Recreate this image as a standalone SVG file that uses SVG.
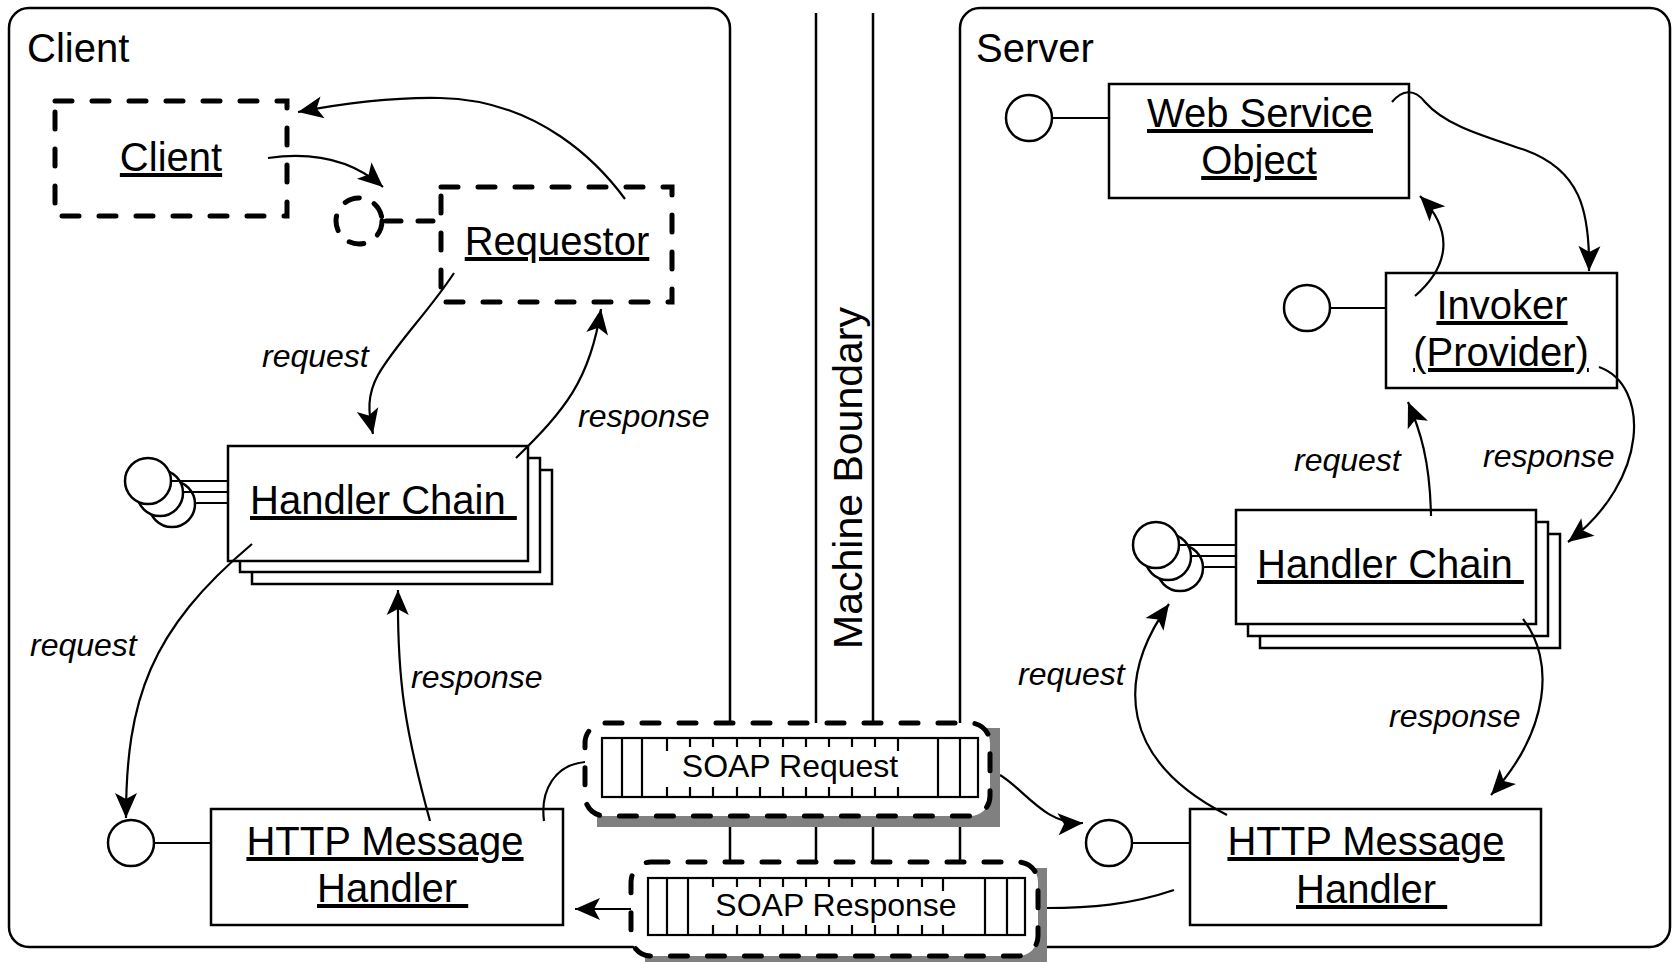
<svg xmlns="http://www.w3.org/2000/svg" width="1672" height="962" viewBox="0 0 1672 962">
<style>
.frame{fill:none;stroke:#000;stroke-width:2.5}
.box{fill:#fff;stroke:#000;stroke-width:2.5}
.ln{fill:none;stroke:#000;stroke-width:2.2}
.dbox{fill:#fff;stroke:#000;stroke-width:5;stroke-dasharray:17 20;stroke-linecap:round}
.conn{fill:none;stroke:#000;stroke-width:2.2;marker-end:url(#ah)}
.tape{fill:#fff;stroke:#000;stroke-width:2.2}
.shadow{fill:#808080}
text{font-family:"Liberation Sans",Arial,Helvetica,sans-serif;fill:#000}
.title{font-size:40px}
.lbl{font-size:40px;text-decoration:underline}
.it{font-size:32px;font-style:italic}
.soap{font-size:32px}
</style>
<defs>
<marker id="ah" markerUnits="userSpaceOnUse" markerWidth="26" markerHeight="22" refX="25" refY="11" orient="auto" overflow="visible">
<path d="M0,0 L25,11 L0,22 L6,11 Z" fill="#000"/>
</marker>
</defs>
<rect width="1672" height="962" fill="#fff"/>

<g id="client-frame">
<rect class="frame" x="9" y="8" width="721" height="939" rx="20"/>
<text class="title" x="27" y="62">Client</text>
</g>
<g id="server-frame">
<rect class="frame" x="960" y="8" width="710" height="939" rx="20"/>
<text class="title" x="976" y="62">Server</text>
</g>
<g id="machine-boundary">
<line class="frame" x1="816" y1="13" x2="816" y2="947"/>
<line class="frame" x1="873" y1="13" x2="873" y2="947"/>
<text class="title" text-anchor="middle" transform="translate(862,478) rotate(-90)" style="font-size:41px">Machine Boundary</text>
</g>

<g id="client-obj">
<rect class="dbox" x="55" y="101" width="232" height="115"/>
<text class="lbl" x="171" y="171" text-anchor="middle">Client</text>
</g>
<g id="requestor-iface">
<circle class="dbox" cx="359" cy="221" r="23" style="stroke-dasharray:15 16"/>
<line x1="386" y1="221" x2="441" y2="221" stroke="#000" stroke-width="5" stroke-dasharray="15 17" stroke-linecap="round"/>
</g>
<g id="requestor">
<rect class="dbox" x="441" y="187" width="231" height="115"/>
<text class="lbl" x="557" y="255" text-anchor="middle">Requestor</text>
</g>

<g id="client-handler-chain">
<rect class="box" x="252" y="470" width="300" height="114"/>
<rect class="box" x="240" y="458" width="300" height="114"/>
<rect class="box" x="228" y="446" width="300" height="115"/>
<circle class="box" cx="172" cy="504" r="23"/>
<circle class="box" cx="160" cy="493" r="23"/>
<circle class="box" cx="148" cy="481" r="23"/>
<line class="ln" x1="171" y1="481" x2="228" y2="481"/>
<line class="ln" x1="183" y1="492" x2="228" y2="492"/>
<line class="ln" x1="195" y1="503" x2="228" y2="503"/>
<text class="lbl" x="250" y="514" xml:space="preserve">Handler Chain </text>
</g>

<g id="client-http-handler">
<circle class="box" cx="131" cy="843" r="23"/>
<line class="ln" x1="154" y1="843" x2="211" y2="843"/>
<rect class="box" x="211" y="809" width="352" height="116"/>
<text class="lbl" x="385" y="855" text-anchor="middle">HTTP Message</text>
<text class="lbl" x="317" y="902" xml:space="preserve">Handler </text>
</g>

<g id="web-service-object">
<circle class="box" cx="1029" cy="118" r="23"/>
<line class="ln" x1="1052" y1="118" x2="1109" y2="118"/>
<rect class="box" x="1109" y="84" width="300" height="114"/>
<text class="lbl" x="1260" y="127" text-anchor="middle">Web Service</text>
<text class="lbl" x="1259" y="174" text-anchor="middle">Object</text>
</g>

<g id="invoker">
<circle class="box" cx="1307" cy="308" r="23"/>
<line class="ln" x1="1330" y1="308" x2="1386" y2="308"/>
<rect class="box" x="1386" y="273" width="231" height="115"/>
<text class="lbl" x="1502" y="319" text-anchor="middle">Invoker</text>
<text class="lbl" x="1501" y="366" text-anchor="middle">(Provider)</text>
</g>

<g id="server-handler-chain">
<rect class="box" x="1260" y="534" width="300" height="114"/>
<rect class="box" x="1248" y="522" width="300" height="114"/>
<rect class="box" x="1236" y="510" width="300" height="114"/>
<circle class="box" cx="1180" cy="568" r="23"/>
<circle class="box" cx="1168" cy="557" r="23"/>
<circle class="box" cx="1156" cy="545" r="23"/>
<line class="ln" x1="1179" y1="545" x2="1236" y2="545"/>
<line class="ln" x1="1191" y1="556" x2="1236" y2="556"/>
<line class="ln" x1="1203" y1="567" x2="1236" y2="567"/>
<text class="lbl" x="1257" y="578" xml:space="preserve">Handler Chain </text>
</g>

<g id="server-http-handler">
<circle class="box" cx="1109" cy="843" r="23"/>
<line class="ln" x1="1132" y1="843" x2="1190" y2="843"/>
<rect class="box" x="1190" y="809" width="351" height="116"/>
<text class="lbl" x="1366" y="855" text-anchor="middle">HTTP Message</text>
<text class="lbl" x="1296" y="903" xml:space="preserve">Handler </text>
</g>

<g id="connectors">
<path class="conn" d="M268,158 C310,152 350,158 383,187"/>
<path class="conn" d="M625,199 C600,165 540,100 440,98 C390,97 340,104 298,112"/>
<path class="conn" d="M454,273 C430,310 395,345 378,375 C367,395 368,412 373,434"/>
<path class="conn" d="M516,458 C565,410 590,380 601,309"/>
<path class="conn" d="M252,544 C150,630 126,700 126,818"/>
<path class="conn" d="M430,821 C405,730 397,680 398,590"/>
<path class="ln" d="M544,821 C540,790 555,765 585,762"/>
<path class="conn" d="M1000,775 C1025,790 1045,825 1083,823"/>
<path class="ln" d="M1174,890 C1130,905 1090,908 1046,908"/>
<path class="conn" d="M631,909 L575,909"/>
<path class="conn" d="M1227,815 C1120,760 1115,680 1169,604"/>
<path class="conn" d="M1523,619 C1555,660 1550,730 1491,795"/>
<path class="conn" d="M1431,516 C1430,460 1420,430 1408,402"/>
<path class="conn" d="M1599,367 C1650,385 1650,480 1568,542"/>
<path class="conn" d="M1415,296 C1445,270 1458,235 1420,196"/>
<path class="conn" d="M1392,102 C1402,90 1414,88 1425,102 C1445,125 1480,135 1525,150 C1580,170 1590,210 1589,271"/>
<text class="it" x="262" y="367">request</text>
<text class="it" x="578" y="427">response</text>
<text class="it" x="30" y="656">request</text>
<text class="it" x="411" y="688">response</text>
<text class="it" x="1294" y="471">request</text>
<text class="it" x="1483" y="467">response</text>
<text class="it" x="1018" y="685">request</text>
<text class="it" x="1389" y="727">response</text>
</g>

<g id="soap-request">
<rect class="shadow" x="597" y="728" width="403" height="99"/>
<rect class="dbox" x="585" y="723" width="405" height="93" rx="20"/>
<rect class="tape" x="602" y="738" width="376" height="59"/>
<path class="ln" d="M622,738V797M642,738V797M938,738V797M960,738V797"/>
<path class="ln" d="M667,738V751M690,738V747M713,738V747M737,738V747M760,738V747M783,738V747M806,738V747M829,738V747M852,738V747M875,738V747M898,738V751"/>
<path class="ln" d="M667,787V797M690,787V797M713,787V797M737,787V797M760,787V797M783,787V797M806,787V797M829,787V797M852,787V797M875,787V797M898,787V797"/>
<text class="soap" x="790" y="777" text-anchor="middle">SOAP Request</text>
</g>

<g id="soap-response">
<rect class="shadow" x="645" y="868" width="402" height="94"/>
<rect class="dbox" x="631" y="862" width="407" height="94" rx="20"/>
<rect class="tape" x="648" y="878" width="377" height="57"/>
<path class="ln" d="M667,878V935M688,878V935M985,878V935M1007,878V935"/>
<path class="ln" d="M713,878V887M737,878V887M760,878V887M783,878V887M806,878V887M829,878V887M852,878V887M875,878V887M898,878V887M922,878V887M943,878V891"/>
<path class="ln" d="M713,925V935M737,925V935M760,925V935M783,925V935M806,925V935M829,925V935M852,925V935M875,925V935M898,925V935M922,925V935M943,925V935"/>
<text class="soap" x="836" y="916" text-anchor="middle">SOAP Response</text>
</g>
</svg>
